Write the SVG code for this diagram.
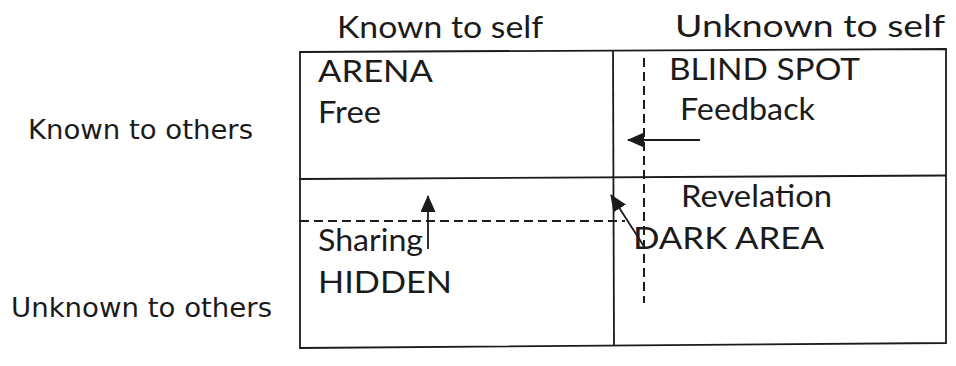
<svg xmlns="http://www.w3.org/2000/svg" width="956" height="366" viewBox="0 0 956 366">
  <defs>
    <style>
      .lbl { font-family: Lato, "Liberation Sans", sans-serif; font-size: 30px; fill: #1b1b1b; }
      .side { font-family: "DejaVu Sans", "Liberation Sans", sans-serif; font-size: 26px; fill: #1b1b1b; }
      .grid { fill: none; stroke: #1b1b1b; stroke-width: 1.8; }
      .dash { fill: none; stroke: #1b1b1b; stroke-width: 2; stroke-dasharray: 9 5; }
      .arrow { fill: none; stroke: #1b1b1b; stroke-width: 1.8; marker-end: url(#head); }
    </style>
    <marker id="head" viewBox="0 0 17 15" refX="16" refY="7.5" markerWidth="17" markerHeight="15" markerUnits="userSpaceOnUse" orient="auto">
      <path d="M0,0 L17,7.5 L0,15 Z" fill="#1b1b1b"/>
    </marker>
  </defs>
  <rect width="956" height="366" fill="#ffffff"/>

  <!-- column headings -->
  <g id="col-known">
    <text class="lbl" x="337" y="38" textLength="206" lengthAdjust="spacingAndGlyphs">Known to self</text>
  </g>
  <g id="col-unknown">
    <text class="lbl" x="675" y="36.5" textLength="270" lengthAdjust="spacingAndGlyphs">Unknown to self</text>
  </g>

  <!-- row headings -->
  <g id="row-known">
    <text class="side" x="28" y="139" textLength="225" lengthAdjust="spacingAndGlyphs">Known to others</text>
  </g>
  <g id="row-unknown">
    <text class="side" x="11" y="317" textLength="261" lengthAdjust="spacingAndGlyphs">Unknown to others</text>
  </g>

  <!-- window frame -->
  <g id="frame">
    <path class="grid" d="M300,52 L946,49 L946,343 L300,348 Z"/>
    <path class="grid" d="M613,51 L614,346"/>
    <path class="grid" d="M300,179 L946,175.5"/>
  </g>

  <!-- quadrants -->
  <g id="arena">
    <text class="lbl" x="318" y="82" textLength="115" lengthAdjust="spacingAndGlyphs">ARENA</text>
    <text class="lbl" x="318" y="123" textLength="63" lengthAdjust="spacingAndGlyphs">Free</text>
  </g>
  <g id="blind-spot">
    <text class="lbl" x="669" y="80" textLength="191" lengthAdjust="spacingAndGlyphs">BLIND SPOT</text>
    <text class="lbl" x="680" y="120" textLength="135" lengthAdjust="spacingAndGlyphs">Feedback</text>
  </g>
  <g id="hidden">
    <text class="lbl" x="318" y="251" textLength="105" lengthAdjust="spacingAndGlyphs">Sharing</text>
    <text class="lbl" x="318" y="293" textLength="134" lengthAdjust="spacingAndGlyphs">HIDDEN</text>
  </g>
  <g id="dark-area">
    <text class="lbl" x="681" y="207" textLength="151" lengthAdjust="spacingAndGlyphs">Revelation</text>
    <text class="lbl" x="633" y="249" textLength="191" lengthAdjust="spacingAndGlyphs">DARK AREA</text>
  </g>

  <!-- shifted boundaries and movement arrows -->
  <g id="connectors">
    <path class="dash" d="M644,58 L644,303"/>
    <path class="dash" d="M300,221 L625,221"/>
    <path class="arrow" d="M700,140 L628,140"/>
    <path class="arrow" d="M428,249 L428,196"/>
    <path class="arrow" d="M645,248 L611,195"/>
  </g>
</svg>
